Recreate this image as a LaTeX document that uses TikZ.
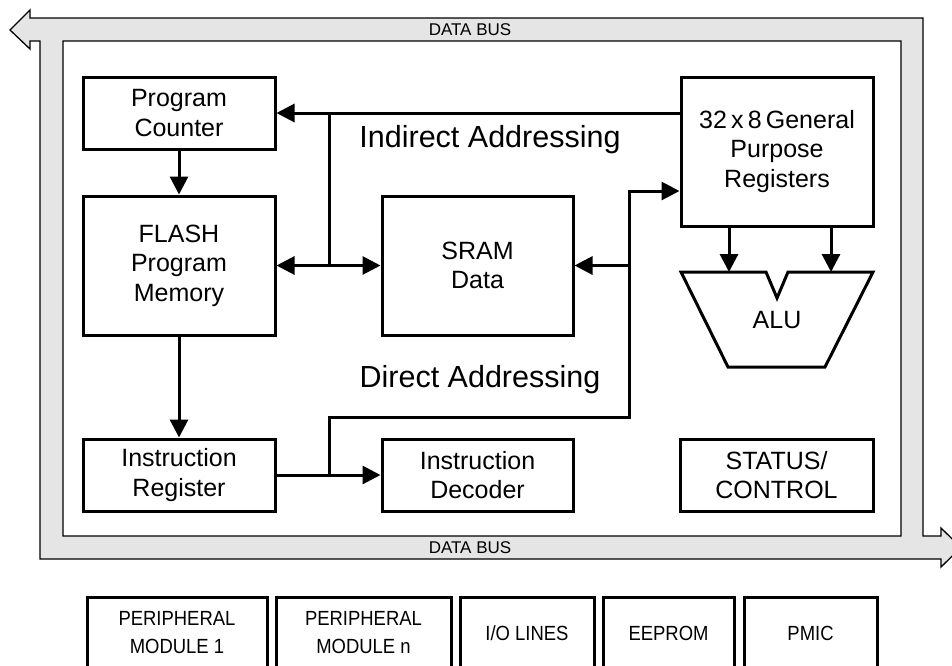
\documentclass[tikz,border=0pt]{standalone}
\usepackage{fontspec}
\setmainfont{Liberation Sans}
\newfontfamily\narrowsans[FakeStretch=0.9]{Liberation Sans}
\usetikzlibrary{arrows.meta}
\definecolor{busgray}{HTML}{E5E5E5}
\begin{document}
\begin{tikzpicture}[x=1pt,y=-1pt,
  blk/.style={draw, line width=3pt, inner sep=0pt, align=center, font=\fontsize{25}{29.5}\selectfont},
  perbox/.style={draw, line width=3pt, inner sep=0pt, align=center, minimum height=72pt, font=\narrowsans\fontsize{20.5}{28}\selectfont},
  conn/.style={line width=3pt},
  arr/.style={line width=3pt, -{Triangle[length=18pt,width=18pt]}},
  arrb/.style={line width=3pt, {Triangle[length=18pt,width=18pt]}-{Triangle[length=18pt,width=18pt]}},
  lbl/.style={font=\fontsize{30.5}{35}\selectfont},
  buslbl/.style={font=\fontsize{17}{20}\selectfont}]
\useasboundingbox (0,0) rectangle (952,665);
\clip (0,0) rectangle (952,665);

% data bus
\filldraw[fill=busgray, draw=black, line width=1.3pt, even odd rule]
  (10,30) -- (30,10) -- (30,18) -- (923,18) -- (923,536) -- (941,536) -- (941,528)
  -- (961,547.5) -- (941,567) -- (941,559) -- (40,559) -- (40,41) -- (30,41) -- (30,49) -- cycle
  (63,41) -- (901,41) -- (901,536) -- (63,536) -- cycle;
\node[buslbl] (dbtop) at (470,30) {DATA BUS};
\node[buslbl] (dbbot) at (470,548) {DATA BUS};

% blocks
\node[blk, minimum width=192pt, minimum height=72pt] (pc) at (179,113) {Program\\Counter};
\node[blk, minimum width=192pt, minimum height=139pt] (flash) at (179,265.5) {FLASH\\Program\\Memory};
\node[blk, minimum width=191pt, minimum height=139pt] (sram) at (477.5,265.5) {SRAM\\Data};
\node[blk, minimum width=192pt, minimum height=149pt] (gpr) at (777,151.5) {32\,x\,8\,General\\Purpose\\Registers};
\node[blk, minimum width=192pt, minimum height=72pt] (ir) at (179,475) {Instruction\\Register};
\node[blk, minimum width=191pt, minimum height=72pt] (dec) at (477.5,475) {Instruction\\Decoder};
\node[blk, minimum width=193pt, minimum height=72pt] (stat) at (776.5,475) {STATUS/\\CONTROL};

% ALU
\draw[line width=3pt, line join=miter] (681,272) -- (766,272) -- (777,298) -- (788,272)
  -- (873,272) -- (825,367) -- (728,367) -- cycle;
\node[font=\fontsize{25}{29.5}\selectfont] (alu) at (777,320) {ALU};
\coordinate (alul) at (729,272);
\coordinate (alur) at (831,272);

% labels
\node[lbl] (ind) at (490,140) {Indirect Addressing};
\node[lbl] (dir) at (480,380) {Direct Addressing};

% connectors
\draw[arr] (pc) -- (flash);
\draw[arr] (flash) -- (ir);
\draw[arr] (gpr.west |- pc.east) -- (pc.east);
\coordinate (j1) at (329,113);
\coordinate (j2) at (329,265.5);
\draw[conn] (j1) -- (j2);
\draw[arrb] (flash.east) -- (sram.west);
\draw[arr] (ir.east) -- (dec.west);
\coordinate (k1) at (329,475);
\coordinate (k2) at (329,417);
\coordinate (k3) at (629,417);
\coordinate (k4) at (629,191);
\draw[arr, line join=miter] (k1) -- (k2) -- (k3) -- (k4) -- (gpr.west |- k4);
\draw[arr] (k4 |- sram.east) -- (sram.east);
\draw[arr] (gpr.south -| alul) -- (alul);
\draw[arr] (gpr.south -| alur) -- (alur);

% peripheral boxes
\node[perbox, minimum width=180pt] (p1) at (177,633) {PERIPHERAL\\MODULE 1};
\node[perbox, minimum width=175pt] (p2) at (363.5,633) {PERIPHERAL\\MODULE n};
\node[perbox, minimum width=134pt] (p3) at (527,633) {I/O LINES};
\node[perbox, minimum width=131pt] (p4) at (668.5,633) {EEPROM};
\node[perbox, minimum width=133pt] (p5) at (810.5,633) {PMIC};
\end{tikzpicture}
\end{document}
